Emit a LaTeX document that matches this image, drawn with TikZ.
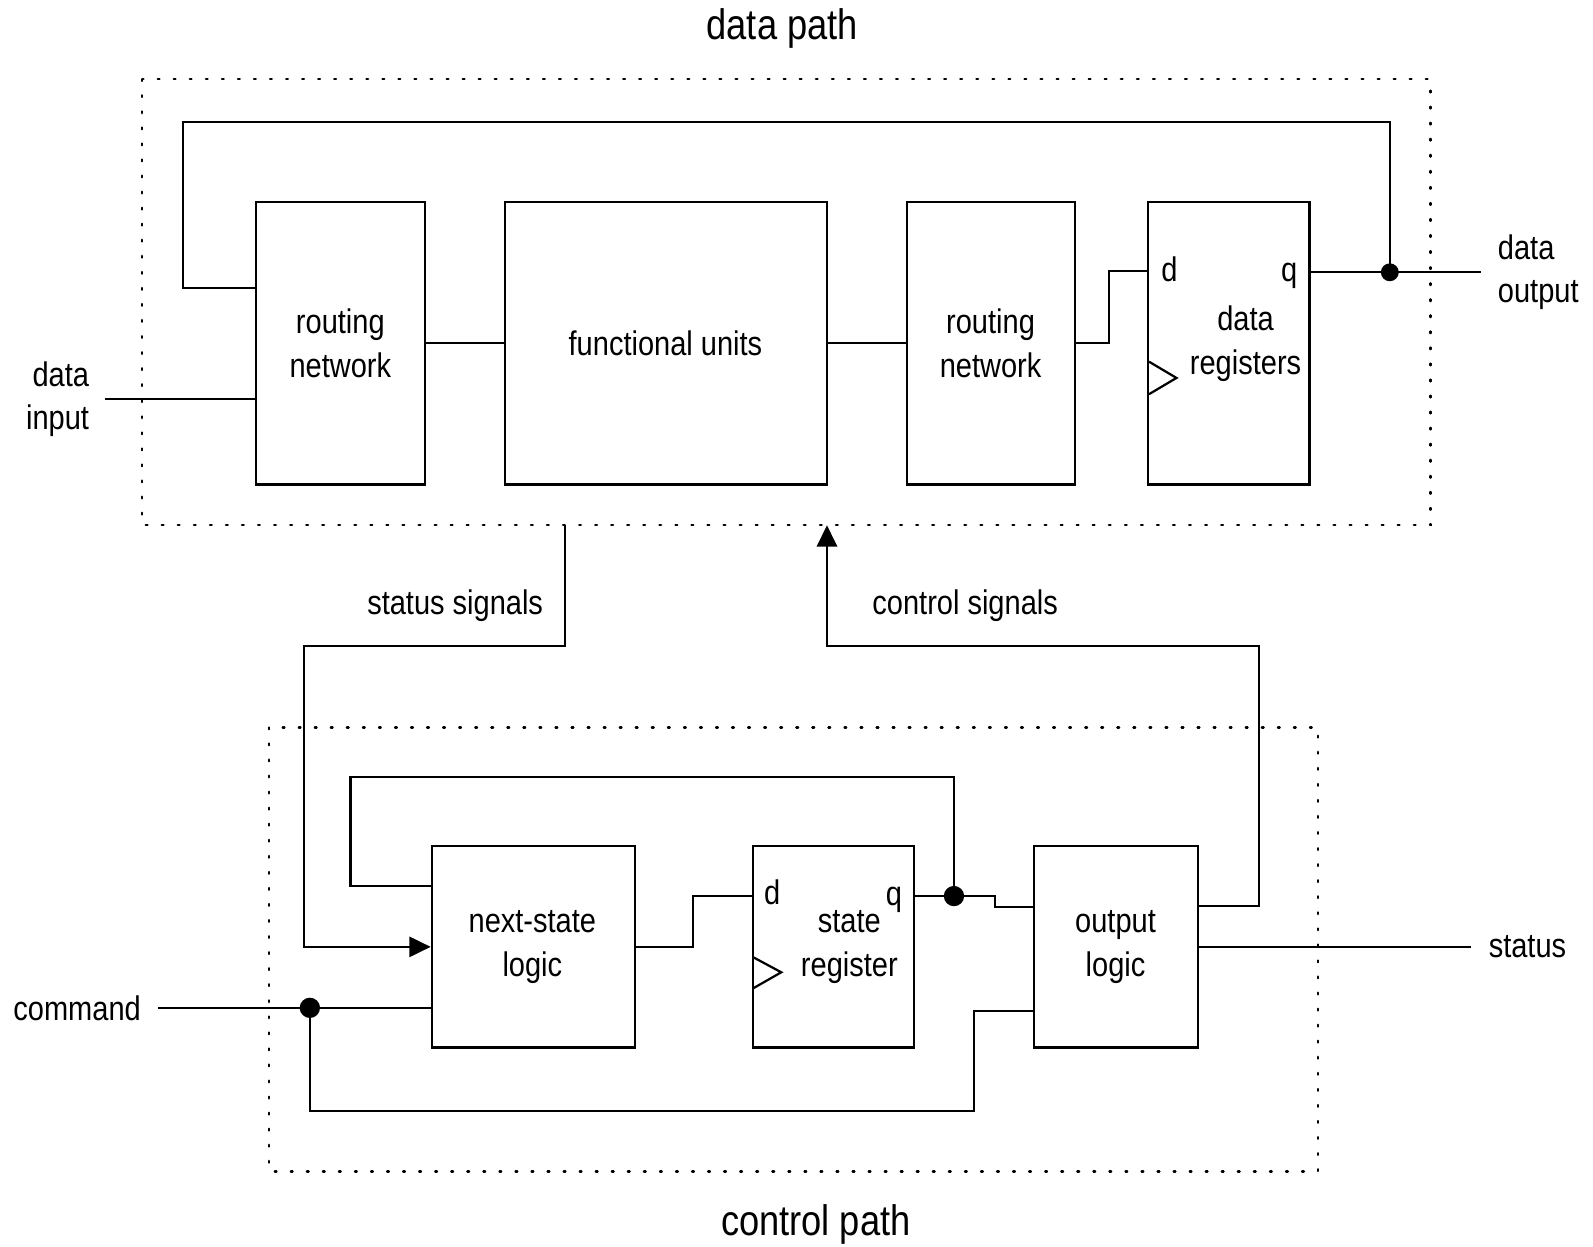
\documentclass[tikz,border=0pt]{standalone}
\usepackage{fontspec}
\setmainfont[FakeStretch=0.85]{Liberation Sans}
\usetikzlibrary{arrows.meta}
\begin{document}
\begin{tikzpicture}[x=0.5pt,y=-0.5pt,
  blk/.style={draw,line width=1.1pt,rectangle,inner sep=0pt},
  wire/.style={line width=1pt},
  arr/.style={wire,-{Triangle[length=10.5pt,width=10pt]}},
  frame/.style={line width=1.1pt,dash pattern=on 0.9pt off 7pt,line cap=round},
  txt/.style={font=\fontsize{16.8}{21.5}\selectfont,align=center,inner sep=0pt},
  big/.style={font=\fontsize{21}{25}\selectfont,inner sep=0pt},
  jdot/.style={fill,circle,inner sep=0pt,minimum size=#1},
  jdot/.default=10pt]
\useasboundingbox (0,0) rectangle (1568,1227);

% frames
\draw[frame] (140,78) rectangle (1408,517);
\draw[frame] (265,716) rectangle (1297,1153);
\node[big] (tdp) at (770,28) {data path};
\node[big] (tcp) at (803,1205) {control path};

% data path blocks
\node[blk,minimum width=83pt,minimum height=139pt] (rn1) at (335,338) {};
\node[blk,minimum width=158.5pt,minimum height=139pt] (fu) at (655.5,338) {};
\node[blk,minimum width=82.5pt,minimum height=139pt] (rn2) at (975.5,338) {};
\node[blk,minimum width=79.5pt,minimum height=139pt] (dr) at (1209.5,338) {};
\node[txt] (trn1) at (335,338) {routing\\network};
\node[txt] (tfu) at (655,338) {functional units};
\node[txt] (trn2) at (975,338) {routing\\network};
\node[txt] (tdr) at (1226,338) {data\\registers};
\node[txt,anchor=base] (tdd) at (1151,277) {d};
\node[txt,anchor=base] (tdq) at (1269,277) {q};
\draw[line width=1.1pt] (1131,356) -- (1158,372) -- (1131,388);

% control path blocks
\node[blk,minimum width=100pt,minimum height=99pt] (nsl) at (525,932) {};
\node[blk,minimum width=79.5pt,minimum height=99pt] (sr) at (820.5,932) {};
\node[blk,minimum width=80.5pt,minimum height=99pt] (ol) at (1098.5,932) {};
\node[txt] (tnsl) at (524,932) {next-state\\logic};
\node[txt] (tsr) at (836,932) {state\\register};
\node[txt] (tol) at (1098,932) {output\\logic};
\node[txt,anchor=base] (tsd) at (760,890) {d};
\node[txt,anchor=base] (tsq) at (880,891) {q};
\draw[line width=1.1pt] (741,942) -- (769,957) -- (741,973);

% outer labels
\node[txt,align=right,anchor=east] (tdin) at (88,393) {data\\input};
\node[txt,align=left,anchor=west] (tdout) at (1474,268) {data\\output};
\node[txt,anchor=east] (tcmd) at (139,992) {command};
\node[txt,anchor=west] (tst) at (1465,932) {status};
\node[txt] (tss) at (448,596) {status signals};
\node[txt] (tcs) at (950,596) {control signals};

% coordinates
\coordinate (qdot) at (1368,268);
\coordinate (dout) at (1458,268);
\coordinate (din) at (103,393);
\coordinate (ss) at (556,517);
\coordinate (cs) at (814,517);
\coordinate (sdot) at (939,882);
\coordinate (cmd) at (156,992);
\coordinate (cdot) at (305,992);
\coordinate (sout) at (1448,932);

% data path wires
\draw[wire] (rn1.east) -- (fu.west);
\draw[wire] (fu.east) -- (rn2.west);
\draw[wire] (rn2.east) -- (1092,338) -- (1092,267) -- (dr.west |- 0,267);
\draw[wire] (dr.east |- 0,268) -- (dout);
\draw[wire] (rn1.west |- 0,283) -- (180,283) -- (180,120) -- (1368,120) -- (qdot);
\draw[wire] (din) -- (rn1.west |- din);
\node[jdot=8.8pt] (dq) at (qdot) {};

% between paths
\draw[arr] (ss) -- (556,636) -- (299,636) -- (299,932) -- (nsl.west);
\draw[arr] (ol.east |- 0,892) -- (1239,892) -- (1239,636) -- (814,636) -- (cs);

% control path wires
\draw[wire] (nsl.east) -- (682,932) -- (682,882) -- (sr.west |- 0,882);
\draw[wire] (sr.east |- 0,882) -- (sdot) -- (979,882) -- (979,893) -- (ol.west |- 0,893);
\draw[wire] (sdot) -- (939,765) -- (345,765) -- (345,872) -- (nsl.west |- 0,872);
\draw[wire] (cmd) -- (nsl.west |- cmd);
\draw[wire] (cdot) -- (305,1094) -- (959,1094) -- (959,995) -- (ol.west |- 0,995);
\draw[wire] (ol.east) -- (sout);
\node[jdot] (ds) at (sdot) {};
\node[jdot] (dc) at (cdot) {};
\end{tikzpicture}
\end{document}
